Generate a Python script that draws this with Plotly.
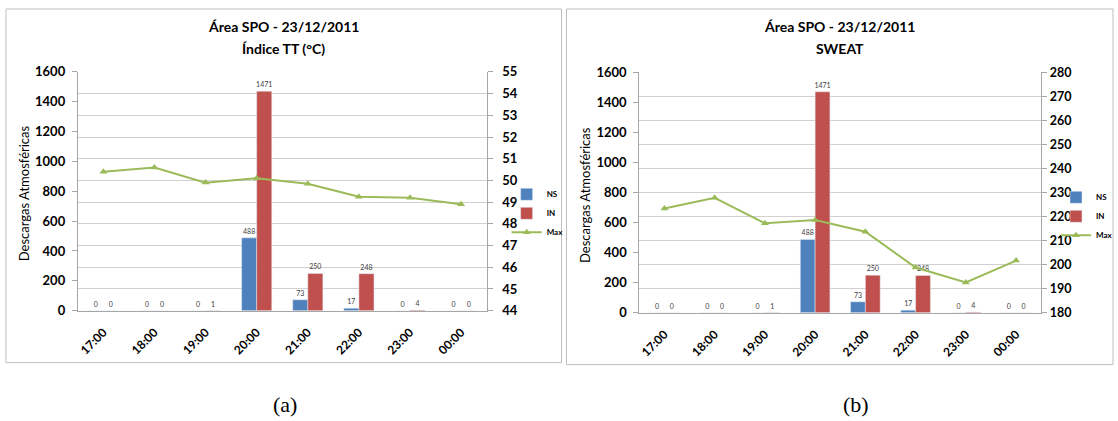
import plotly.graph_objects as go

# ---------------- data ----------------
categories = ["17:00", "18:00", "19:00", "20:00", "21:00", "22:00", "23:00", "00:00"]
ns_values = [0, 0, 0, 488, 73, 17, 0, 0]
in_values = [0, 0, 1, 1471, 250, 248, 4, 0]
max_tt = [50.4, 50.6, 49.9, 50.1, 49.85, 49.25, 49.2, 48.9]
max_sweat = [223.4, 227.8, 217.2, 218.6, 213.7, 198.8, 192.6, 201.7]

title_main = "Área SPO - 23/12/2011"
subtitles = ["Índice TT (°C)", "SWEAT"]
captions = ["(a)", "(b)"]
left_range = [0, 1600]
right_ranges = [[44, 55], [180, 280]]
right_dticks = [1, 10]

# ---------------- layout helpers ----------------
W, H = 1118, 421
V_OFF, V_SCALE = 8.0, 0.963   # compensates the vertical fit observed in the screenshot

def px(x):
    return x / W

def py(y):
    return 1 - ((y - V_OFF) / V_SCALE) / H

FONT = "Lato"
NS_COLOR = "#4F81BD"
IN_COLOR = "#C0504D"
MAX_COLOR = "#9BBB59"
AXIS_LINE = "#A6A6A6"
GRID = "#D0D0D0"

panels = [
    dict(x0=77, x1=487, y0=72, y1=311, box=(5, 9, 562, 363), cap_x=285,
         legend_x=507, legend_y=180, right=max_tt, xa="x", ya="y", ya2="y2",
         r_standoff=7, r_size=13),
    dict(x0=640, x1=1043, y0=72.5, y1=313, box=(567, 9, 1115, 365), cap_x=857,
         legend_x=1058, legend_y=183, right=max_sweat, xa="x2", ya="y3", ya2="y4",
         r_standoff=0, r_size=12.5),
]

fig = go.Figure()
annotations = []
shapes = []
layout_axes = {}

for i, p in enumerate(panels):
    legend_name = "legend" if i == 0 else "legend2"
    fig.add_trace(go.Bar(
        x=categories, y=ns_values, name="NS", marker_color=NS_COLOR,
        text=[str(v) for v in ns_values], textposition="outside",
        textfont=dict(size=7, color="#404040", family=FONT),
        constraintext="none", cliponaxis=False,
        xaxis=p["xa"], yaxis=p["ya"], legend=legend_name))
    fig.add_trace(go.Bar(
        x=categories, y=in_values, name="IN", marker_color=IN_COLOR,
        text=[str(v) for v in in_values], textposition="outside",
        textfont=dict(size=7, color="#404040", family=FONT),
        constraintext="none", cliponaxis=False,
        xaxis=p["xa"], yaxis=p["ya"], legend=legend_name))
    fig.add_trace(go.Scatter(
        x=categories, y=p["right"], name="Max", mode="lines+markers",
        line=dict(color=MAX_COLOR, width=2),
        marker=dict(symbol="triangle-up", size=7, color=MAX_COLOR),
        xaxis=p["xa"], yaxis=p["ya2"], legend=legend_name))

    xkey = "xaxis" if i == 0 else "xaxis2"
    ykey = "yaxis" if i == 0 else "yaxis3"
    y2key = "yaxis2" if i == 0 else "yaxis4"
    ya_id = p["ya"]
    xa_id = p["xa"]
    dom_y = [py(p["y1"]), py(p["y0"])]

    layout_axes[xkey] = dict(
        domain=[px(p["x0"]), px(p["x1"])], anchor=ya_id, type="category",
        tickangle=-45, showline=True, linecolor=AXIS_LINE, linewidth=1,
        ticks="outside", ticklen=9, tickcolor="rgba(0,0,0,0)",
        tickfont=dict(family=FONT, size=12, color="#000000", weight="bold"),
        showgrid=False, zeroline=False, fixedrange=True)
    layout_axes[ykey] = dict(
        domain=dom_y, anchor=xa_id, range=left_range, dtick=200,
        showgrid=False, zeroline=False, showline=True, linecolor=AXIS_LINE,
        ticks="outside", ticklen=5, tickcolor=AXIS_LINE, ticklabelstandoff=4,
        tickfont=dict(family=FONT, size=13, color="#000000", weight="bold"))
    layout_axes[y2key] = dict(
        domain=dom_y, anchor=xa_id, overlaying=ya_id, side="right",
        range=right_ranges[i], dtick=right_dticks[i],
        showgrid=True, gridcolor=GRID, gridwidth=1, zeroline=False,
        showline=True, linecolor=AXIS_LINE,
        ticks="outside", ticklen=5, tickcolor=AXIS_LINE,
        ticklabelstandoff=p["r_standoff"],
        tickfont=dict(family=FONT, size=p["r_size"], color="#000000", weight="bold"))

    cx = (p["box"][0] + p["box"][2]) / 2
    annotations.append(dict(
        x=px(cx), y=py(27), xref="paper", yref="paper", text=title_main,
        showarrow=False, xanchor="center", yanchor="middle",
        font=dict(family=FONT, size=14, color="#000000", weight="bold")))
    annotations.append(dict(
        x=px(cx), y=py(49), xref="paper", yref="paper", text=subtitles[i],
        showarrow=False, xanchor="center", yanchor="middle",
        font=dict(family=FONT, size=14, color="#000000", weight="bold")))
    annotations.append(dict(
        x=px(p["box"][0] + 18), y=py((p["y0"] + p["y1"]) / 2 + 2), xref="paper", yref="paper",
        text="Descargas Atmosféricas", textangle=-90, showarrow=False,
        xanchor="center", yanchor="middle",
        font=dict(family=FONT, size=13, color="#000000")))
    annotations.append(dict(
        x=px(p["cap_x"]), y=py(405), xref="paper", yref="paper", text=captions[i],
        showarrow=False, xanchor="center", yanchor="middle",
        font=dict(family="Liberation Serif", size=22, color="#000000")))
    shapes.append(dict(
        type="rect", xref="paper", yref="paper",
        x0=px(p["box"][0]), x1=px(p["box"][2]), y0=py(p["box"][3]), y1=py(p["box"][1]),
        line=dict(color="#BFBFBF", width=1), fillcolor="rgba(0,0,0,0)", layer="below"))

legend_common = dict(
    xanchor="left", yanchor="top", bgcolor="rgba(0,0,0,0)", borderwidth=0,
    font=dict(family=FONT, size=8, color="#000000", weight="bold"),
    traceorder="normal", tracegroupgap=0)

fig.update_layout(
    width=W, height=H, autosize=False,
    margin=dict(l=0, r=0, t=0, b=0),
    paper_bgcolor="#FFFFFF", plot_bgcolor="rgba(0,0,0,0)",
    barmode="group", bargap=0.41, bargroupgap=0.0,
    showlegend=True,
    legend=dict(x=px(panels[0]["legend_x"]), y=py(panels[0]["legend_y"]), **legend_common),
    legend2=dict(x=px(panels[1]["legend_x"]), y=py(panels[1]["legend_y"]), **legend_common),
    annotations=annotations, shapes=shapes,
    font=dict(family=FONT),
    **layout_axes)

fig.write_html(
    "out.html",
    config={"displayModeBar": False},
    post_script="document.body.style.margin='0px';document.body.style.overflow='hidden';",
)
